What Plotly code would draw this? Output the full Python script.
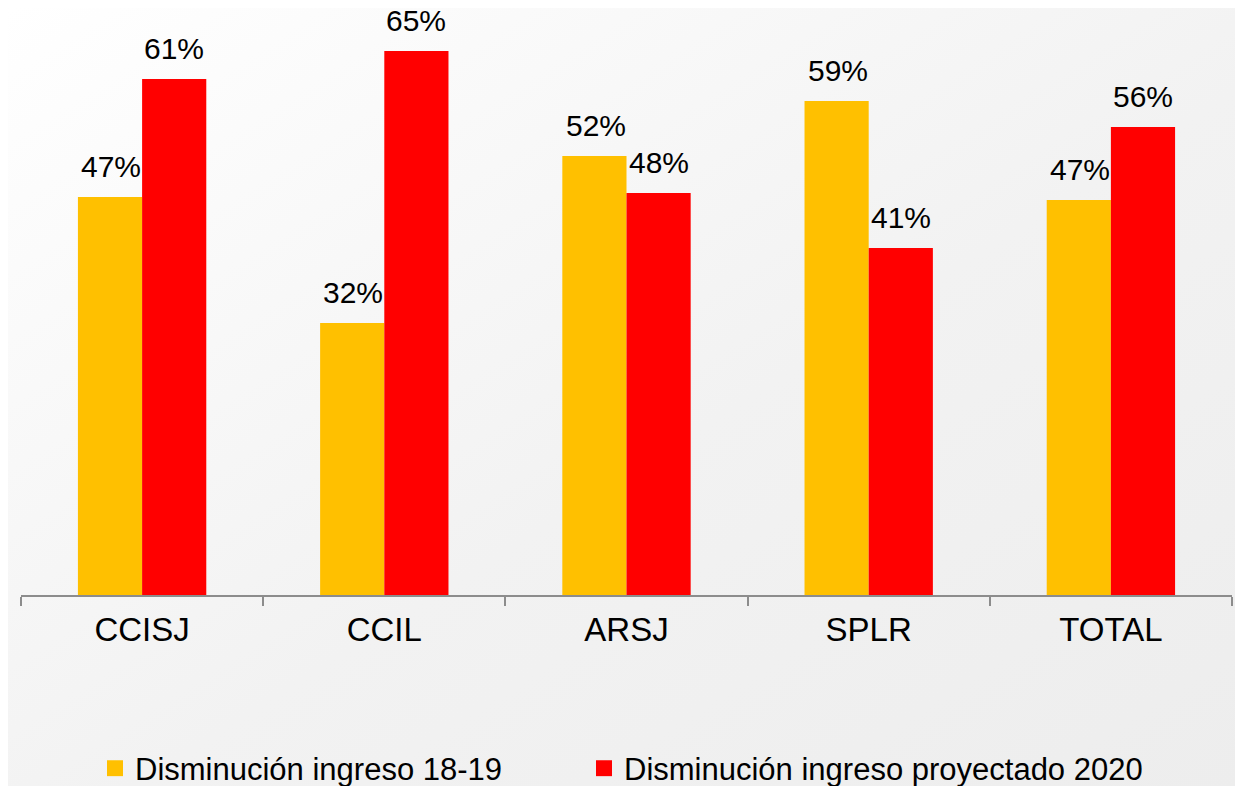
import base64
import plotly.graph_objects as go

categories = ["CCISJ", "CCIL", "ARSJ", "SPLR", "TOTAL"]
serie_1819 = [0.4733, 0.3234, 0.5220, 0.5874, 0.4697]
serie_2020 = [0.6136, 0.6468, 0.4780, 0.4126, 0.5565]
name_1819 = "Disminución ingreso 18-19"
name_2020 = "Disminución ingreso proyectado 2020"
color_1819 = "#FFC000"
color_2020 = "#FF0000"

# page body has an 8px margin, so the figure is laid out 8px smaller
OFF = 8
W, H = 1243 - OFF, 786 - OFF
ML, MR, MT, MB = 21 - OFF, 11, 10 - OFF, 191
PW, PH = W - ML - MR, H - MT - MB

svg = (
    '<svg xmlns="http://www.w3.org/2000/svg" width="100" height="100" preserveAspectRatio="none">'
    '<defs><linearGradient id="g" x1="0" y1="0" x2="1" y2="1">'
    '<stop offset="0" stop-color="#ffffff"/><stop offset="0.55" stop-color="#f2f2f2"/>'
    '<stop offset="1" stop-color="#ededed"/>'
    '</linearGradient></defs><rect width="100" height="100" fill="url(#g)"/></svg>'
)
src = "data:image/svg+xml;base64," + base64.b64encode(svg.encode()).decode()

fig = go.Figure()
for vals, col, off in ((serie_1819, color_1819, -31), (serie_2020, color_2020, 32)):
    fig.add_trace(go.Bar(
        x=categories, y=vals, marker=dict(color=col, line=dict(width=0)),
        showlegend=False, hoverinfo="x+y",
    ))
    for c, v in zip(categories, vals):
        fig.add_annotation(
            x=c, y=v, xref="x", yref="y", text=f"{round(v * 100)}%",
            showarrow=False, yanchor="bottom", xanchor="center",
            xshift=off, yshift=12, font=dict(size=30, color="#000000"),
        )

# legend entries (square swatches), one legend each so they can be placed apart
for nm, col, lg in ((name_1819, color_1819, "legend"), (name_2020, color_2020, "legend2")):
    fig.add_trace(go.Scatter(
        x=[None], y=[None], mode="markers", name=nm, legend=lg,
        marker=dict(symbol="square", size=17, color=col),
    ))

leg_common = dict(
    orientation="h", xref="container", yref="container",
    y=(786 - 768.5) / H, xanchor="left", yanchor="middle",
    font=dict(size=31, color="#000000"),
    bgcolor="rgba(0,0,0,0)", itemwidth=30, borderwidth=0,
)

fig.update_layout(
    width=W, height=H,
    margin=dict(l=ML, r=MR, t=MT, b=MB, pad=0),
    barmode="group", bargap=0.47, bargroupgap=0,
    paper_bgcolor="#f2f2f2", plot_bgcolor="rgba(0,0,0,0)",
    font=dict(family="Arial, Liberation Sans, sans-serif", color="#000000"),
    images=[dict(
        source=src, xref="paper", yref="paper",
        x=-ML / PW, y=1 + MT / PH, sizex=W / PW, sizey=H / PH,
        xanchor="left", yanchor="top", sizing="stretch", layer="below",
    )],
    xaxis=dict(
        type="category", categoryorder="array", categoryarray=categories,
        showline=True, linecolor="#8c8c8c", linewidth=1.5,
        ticks="outside", tickson="boundaries", ticklen=9, tickcolor="#8c8c8c", tickwidth=1.5,
        tickfont=dict(size=33, color="#000000"), ticklabelstandoff=5, showgrid=False,
    ),
    yaxis=dict(range=[0, 0.6956], visible=False, showgrid=False, zeroline=False),
    legend=dict(x=(95 - OFF) / W, **leg_common),
    legend2=dict(x=(584 - OFF) / W, **leg_common),
    showlegend=True,
)

fig.write_html("out.html")
